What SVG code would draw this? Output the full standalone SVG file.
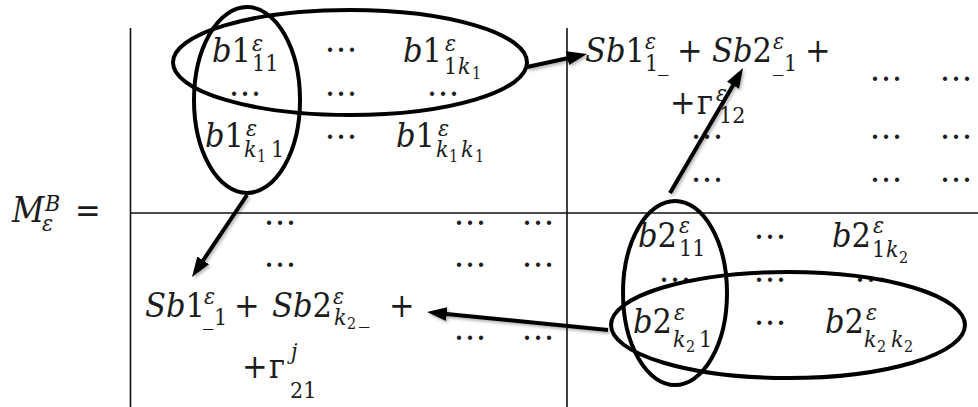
<svg xmlns="http://www.w3.org/2000/svg" width="978" height="407" viewBox="0 0 978 407">
<style>
  text { font-family: 'DejaVu Serif', 'Liberation Serif', serif; font-stretch: condensed; fill: #1c1c1c; }
  .m { font-size: 34px; }
  .i { font-style: italic; }
  .s { font-size: 23px; }
  .ss { font-size: 16px; }
  .dots { font-size: 33px; text-anchor: middle; font-stretch: normal; }
  .rule { stroke: #111; stroke-width: 1.6; fill: none; }
  .loop { fill: none; stroke: #000; stroke-width: 4; }
  .link { fill: none; stroke: #000; stroke-width: 4; marker-end: url(#head); }
</style>
<defs>
  <marker id="head" markerUnits="userSpaceOnUse" markerWidth="20" markerHeight="14" viewBox="0 0 20 14" refX="8" refY="7" orient="auto">
    <path d="M0,0 L20,7 L0,14 Z" fill="#000"/>
  </marker>
  <filter id="shade" x="-20%" y="-20%" width="140%" height="140%">
    <feDropShadow dx="1.5" dy="2" stdDeviation="1.5" flood-color="#000" flood-opacity="0.3"/>
  </filter>
</defs>
<rect width="978" height="407" fill="#fff"/>

<!-- matrix name -->
<g id="label-M">
  <text class="m i" x="12" y="222" style="font-size:35px">M</text>
  <text class="s i" x="45" y="211">B</text>
  <text class="s i" x="42" y="231">ε</text>
  <text class="m" x="75" y="222">=</text>
</g>

<!-- block partition lines -->
<g id="grid">
  <line class="rule" x1="130.5" y1="28" x2="130.5" y2="407"/>
  <line class="rule" x1="567" y1="28" x2="567" y2="407"/>
  <line class="rule" x1="130" y1="213" x2="978" y2="213"/>
</g>

<!-- upper-left block b1 -->
<g id="block-b1">
  <text class="m"><tspan class="i" x="212" y="62">b</tspan>1</text>
  <text class="s i" x="252" y="51">ε</text>
  <text class="s" x="252" y="71">11</text>

  <text class="m"><tspan class="i" x="205" y="147">b</tspan>1</text>
  <text class="s i" x="246" y="136">ε</text>
  <text class="s i" x="244" y="157">k</text>
  <text class="ss" x="257" y="162">1</text>
  <text class="s" x="271" y="157">1</text>

  <text class="m"><tspan class="i" x="403" y="62">b</tspan>1</text>
  <text class="s i" x="445" y="51">ε</text>
  <text class="s" x="444" y="74">1</text>
  <text class="s i" x="458" y="74">k</text>
  <text class="ss" x="472" y="79">1</text>

  <text class="m"><tspan class="i" x="396" y="147">b</tspan>1</text>
  <text class="s i" x="438" y="136">ε</text>
  <text class="s i" x="436" y="157">k</text>
  <text class="ss" x="449" y="162">1</text>
  <text class="s i" x="461" y="157">k</text>
  <text class="ss" x="475" y="162">1</text>

  <text class="dots" x="245" y="96">…</text>
  <text class="dots" x="341" y="52">…</text>
  <text class="dots" x="341" y="96">…</text>
  <text class="dots" x="341" y="139">…</text>
  <text class="dots" x="443" y="96">…</text>
</g>

<!-- upper-right block -->
<g id="sum-12">
  <text class="m"><tspan class="i" x="585" y="62">Sb</tspan>1</text>
  <text class="s i" x="645" y="49">ε</text>
  <text class="s" x="645" y="71">1</text>
  <text class="s" x="658" y="71">_</text>
  <text class="m" x="677" y="62">+</text>
  <text class="m"><tspan class="i" x="712" y="62">Sb</tspan>2</text>
  <text class="s i" x="773" y="49">ε</text>
  <text class="s" x="773" y="71">_</text>
  <text class="s" x="784" y="71">1</text>
  <text class="m" x="805" y="62">+</text>

  <text class="m" x="670" y="114">+</text>
  <text class="m" x="697" y="114">г</text>
  <text class="s i" x="716" y="101">ε</text>
  <text class="s" x="719" y="123">12</text>
</g>
<g id="dots-12">
  <text class="dots" x="886" y="81">…</text>
  <text class="dots" x="956" y="81">…</text>
  <text class="dots" x="707" y="139">…</text>
  <text class="dots" x="886" y="139">…</text>
  <text class="dots" x="956" y="139">…</text>
  <text class="dots" x="707" y="182">…</text>
  <text class="dots" x="886" y="182">…</text>
  <text class="dots" x="956" y="182">…</text>
</g>

<!-- lower-left block -->
<g id="sum-21">
  <text class="m"><tspan class="i" x="145" y="317">Sb</tspan>1</text>
  <text class="s i" x="204" y="304">ε</text>
  <text class="s" x="203" y="325">_</text>
  <text class="s" x="214" y="325">1</text>
  <text class="m" x="234" y="317">+</text>
  <text class="m"><tspan class="i" x="272" y="317">Sb</tspan>2</text>
  <text class="s i" x="333" y="304">ε</text>
  <text class="s i" x="334" y="325">k</text>
  <text class="ss" x="347" y="329">2</text>
  <text class="s" x="359" y="323">_</text>
  <text class="m" x="389" y="317">+</text>

  <text class="m" x="242" y="378">+</text>
  <text class="m" x="269" y="378">г</text>
  <text class="s i" x="291" y="359">j</text>
  <text class="s" x="290" y="398">21</text>
</g>
<g id="dots-21">
  <text class="dots" x="280" y="225">…</text>
  <text class="dots" x="470" y="225">…</text>
  <text class="dots" x="538" y="225">…</text>
  <text class="dots" x="280" y="267">…</text>
  <text class="dots" x="470" y="267">…</text>
  <text class="dots" x="538" y="267">…</text>
  <text class="dots" x="470" y="340">…</text>
  <text class="dots" x="538" y="340">…</text>
</g>

<!-- lower-right block b2 -->
<g id="block-b2">
  <text class="m"><tspan class="i" x="638" y="247">b</tspan>2</text>
  <text class="s i" x="679" y="233">ε</text>
  <text class="s" x="679" y="256">11</text>

  <text class="m"><tspan class="i" x="832" y="247">b</tspan>2</text>
  <text class="s i" x="873" y="233">ε</text>
  <text class="s" x="872" y="257">1</text>
  <text class="s i" x="886" y="257">k</text>
  <text class="ss" x="899" y="263">2</text>

  <text class="m"><tspan class="i" x="633" y="333">b</tspan>2</text>
  <text class="s i" x="674" y="320">ε</text>
  <text class="s i" x="673" y="347">k</text>
  <text class="ss" x="686" y="352">2</text>
  <text class="s" x="699" y="347">1</text>

  <text class="m"><tspan class="i" x="825" y="333">b</tspan>2</text>
  <text class="s i" x="866" y="320">ε</text>
  <text class="s i" x="864" y="347">k</text>
  <text class="ss" x="877" y="352">2</text>
  <text class="s i" x="891" y="347">k</text>
  <text class="ss" x="904" y="352">2</text>

  <text class="dots" x="770" y="239">…</text>
  <text class="dots" x="675" y="282">…</text>
  <text class="dots" x="770" y="282">…</text>
  <text class="dots" x="871" y="282">…</text>
  <text class="dots" x="770" y="325">…</text>
</g>

<!-- row and column selections -->
<g id="row-b1"><ellipse class="loop" cx="350" cy="62.5" rx="177" ry="52.5"/></g>
<g id="col-b1"><ellipse class="loop" cx="247" cy="100" rx="53" ry="93"/></g>
<g id="col-b2"><ellipse class="loop" cx="675" cy="293" rx="52" ry="92"/></g>
<g id="row-b2"><ellipse class="loop" cx="788" cy="325" rx="177" ry="53"/></g>

<!-- arrows -->
<g id="connectors" filter="url(#shade)">
  <line class="link" x1="527" y1="67" x2="575.3" y2="56.5"/>
  <line class="link" x1="247" y1="195" x2="198.7" y2="267"/>
  <line class="link" x1="670" y1="193" x2="737" y2="78.4"/>
  <line class="link" x1="608" y1="330" x2="438.9" y2="313.2"/>
</g>
</svg>
